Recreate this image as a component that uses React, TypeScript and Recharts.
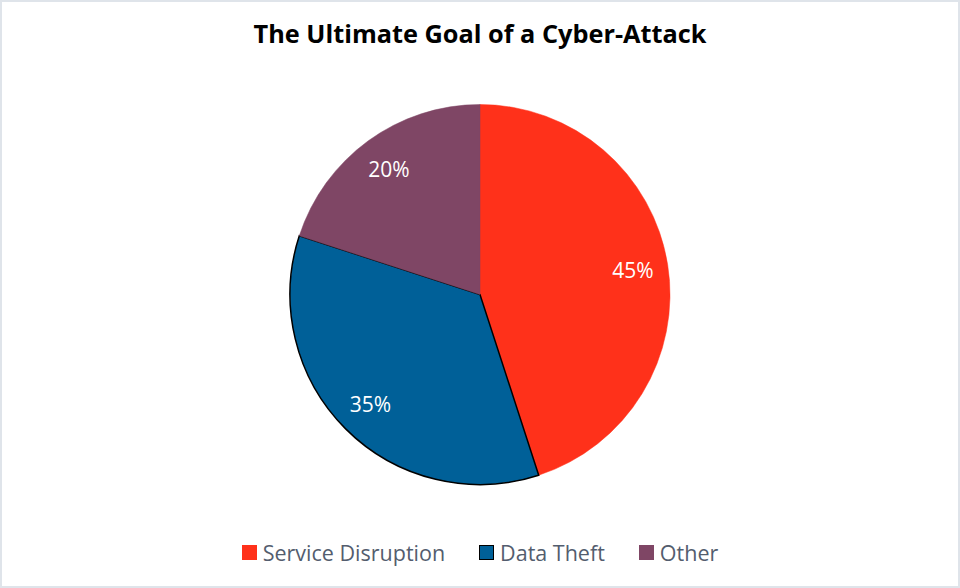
import React from 'react';
import { PieChart, Pie, Cell, Legend } from 'recharts';

const categories = ['Service Disruption', 'Data Theft', 'Other'];
const shares = [45, 35, 20];
const colors = ['#FF311A', '#006098', '#7F4665'];
const strokes = ['#FF311A', '#000000', '#7F4665'];

const data = categories.map((name, i) => ({ name, value: shares[i] }));

const FONT = '"Open Sans", "Noto Sans", sans-serif';
const RAD = Math.PI / 180;

const renderLabel = ({ cx, cy, midAngle, outerRadius, value }: any) => {
  const r = outerRadius * 0.815;
  const x = cx + r * Math.cos(-midAngle * RAD);
  const y = cy + r * Math.sin(-midAngle * RAD);
  return (
    <text
      x={x}
      y={y}
      fill="#ffffff"
      textAnchor="middle"
      dominantBaseline="central"
      style={{ fontFamily: FONT, fontSize: 21 }}
    >
      {`${value}%`}
    </text>
  );
};

const LegendContent = () => (
  <div
    style={{
      display: 'flex',
      justifyContent: 'center',
      alignItems: 'center',
      gap: 34,
      fontFamily: FONT,
      fontSize: 21.5,
      color: '#535d6e',
    }}
  >
    {categories.map((name, i) => (
      <div key={name} style={{ display: 'flex', alignItems: 'center', gap: 6 }}>
        <span
          style={{
            display: 'inline-block',
            boxSizing: 'border-box',
            width: 15,
            height: 15,
            background: colors[i],
            border: i === 1 ? '1.5px solid #000' : 'none',
          }}
        />
        <span>{name}</span>
      </div>
    ))}
  </div>
);

export default function App() {
  return (
    <div
      style={{
        position: 'absolute',
        left: 0,
        top: 0,
        width: 960,
        height: 588,
        boxSizing: 'border-box',
        border: '2px solid #dfe4ea',
        background: '#ffffff',
      }}
    >
      <div
        style={{
          position: 'absolute',
          left: 0,
          top: 14,
          width: 956,
          textAlign: 'center',
          fontFamily: FONT,
          fontWeight: 700,
          fontSize: 25.3,
          color: '#000000',
        }}
      >
        The Ultimate Goal of a Cyber-Attack
      </div>
      <div style={{ position: 'absolute', left: -2, top: -2 }}>
        <PieChart width={960} height={588} margin={{ top: 0, right: 0, bottom: 0, left: 0 }}>
          <Pie
            data={data}
            dataKey="value"
            nameKey="name"
            cx={480}
            cy={294.5}
            outerRadius={190}
            startAngle={90}
            endAngle={-270}
            label={renderLabel}
            labelLine={false}
            isAnimationActive={false}
          >
            {data.map((d, i) => (
              <Cell
                key={d.name}
                fill={colors[i]}
                stroke={strokes[i]}
                strokeWidth={i === 1 ? 1.5 : 0.5}
              />
            ))}
          </Pie>
          <Legend
            content={<LegendContent />}
            wrapperStyle={{ left: 0, top: 538, width: 960 }}
          />
        </PieChart>
      </div>
    </div>
  );
}
